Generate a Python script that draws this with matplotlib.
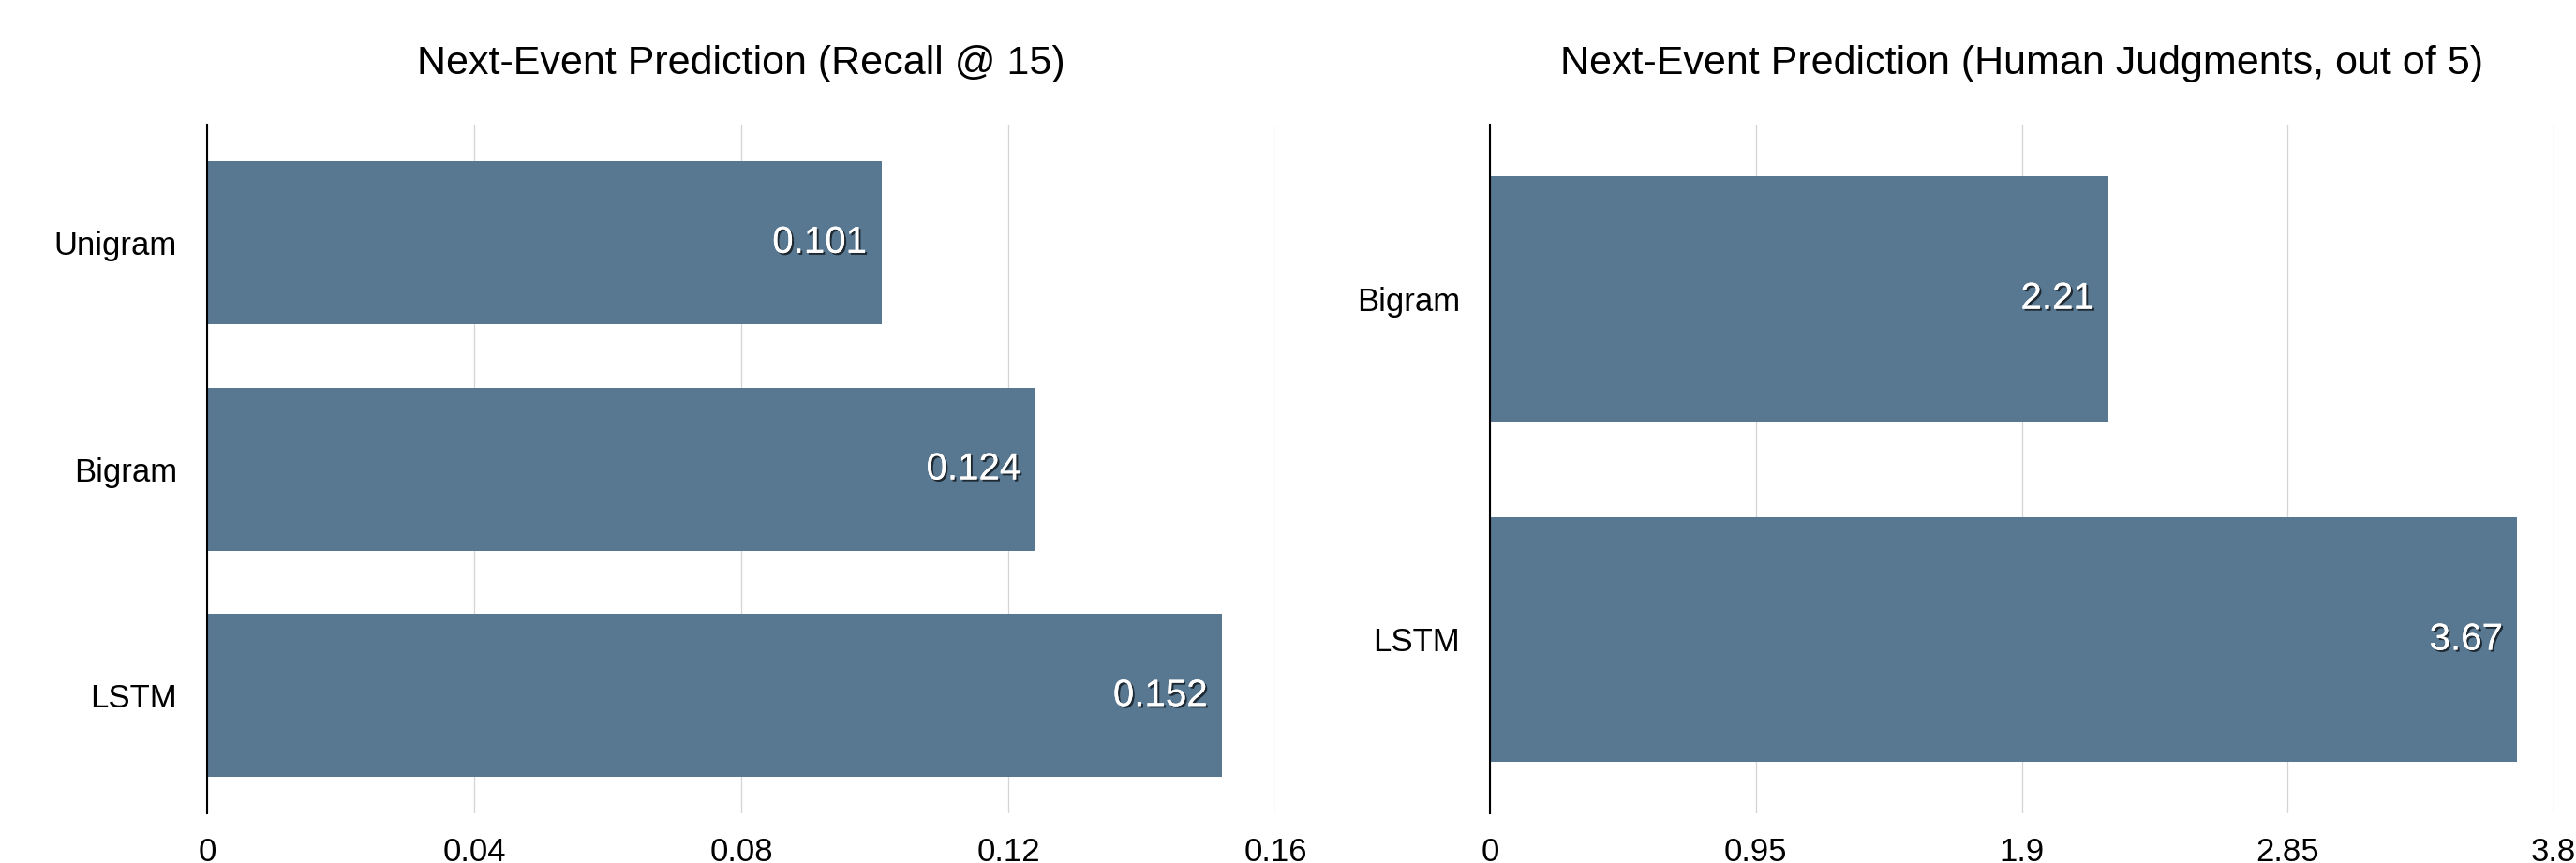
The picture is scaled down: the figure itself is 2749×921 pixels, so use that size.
import matplotlib
matplotlib.use("Agg")
import matplotlib.pyplot as plt
import matplotlib.patheffects as pe

plt.rcParams['font.family'] = ['Liberation Sans', 'DejaVu Sans']

# recall @ 15
recall_models = ['Unigram', 'Bigram', 'LSTM']
recall_values = [0.101, 0.124, 0.152]
recall_ticks = [0, 0.04, 0.08, 0.12, 0.16]
recall_ticklabels = ['0', '0.04', '0.08', '0.12', '0.16']

# human judgments, out of 5
human_models = ['Bigram', 'LSTM']
human_values = [2.21, 3.67]
human_ticks = [0, 0.95, 1.9, 2.85, 3.8]
human_ticklabels = ['0', '0.95', '1.9', '2.85', '3.8']

bar_color = '#587790'
shadow = [pe.withSimplePatchShadow(offset=(1.5, -1.5), shadow_rgbFace='black', alpha=0.65),
          pe.Normal()]

fig = plt.figure(figsize=(27.49, 9.21), dpi=100)
ax1 = fig.add_axes([0.0804, 0.0575, 0.4147, 0.798])
ax2 = fig.add_axes([0.5784, 0.0575, 0.4129, 0.798])


def draw_panel(ax, models, values, ticks, ticklabels, title, ypad):
    pos = list(range(len(models)))
    ax.barh(pos, values, height=0.72, color=bar_color, zorder=2)
    ax.set_yticks(pos)
    ax.set_yticklabels(models)
    ax.set_ylim(len(models) - 1 + ypad, -ypad)
    ax.set_xticks(ticks)
    ax.set_xticklabels(ticklabels)
    ax.set_xlim(ticks[0], ticks[-1])
    ax.grid(axis='x', color='#d4d4d4', linewidth=0.9, zorder=0)
    ax.set_axisbelow(True)
    for s in ['top', 'right', 'bottom']:
        ax.spines[s].set_visible(False)
    ax.spines['left'].set_linewidth(1.5)
    ax.spines['left'].set_color('black')
    ax.spines['left'].set_zorder(3)
    ax.tick_params(axis='both', length=0, labelsize=25)
    ax.tick_params(axis='x', pad=18)
    ax.tick_params(axis='y', pad=23)
    ax.set_title(title, fontsize=31, pad=39)
    # value labels inside the bar ends
    for p, v in zip(pos, values):
        ax.annotate(str(v), xy=(v, p), xytext=(-11, 0), textcoords='offset points',
                    ha='right', va='center', color='white', fontsize=29,
                    path_effects=shadow, zorder=4)


draw_panel(ax1, recall_models, recall_values, recall_ticks, recall_ticklabels,
           'Next-Event Prediction (Recall @ 15)', 0.52)
draw_panel(ax2, human_models, human_values, human_ticks, human_ticklabels,
           'Next-Event Prediction (Human Judgments, out of 5)', 0.51)

fig.savefig('out.png', dpi=100)
